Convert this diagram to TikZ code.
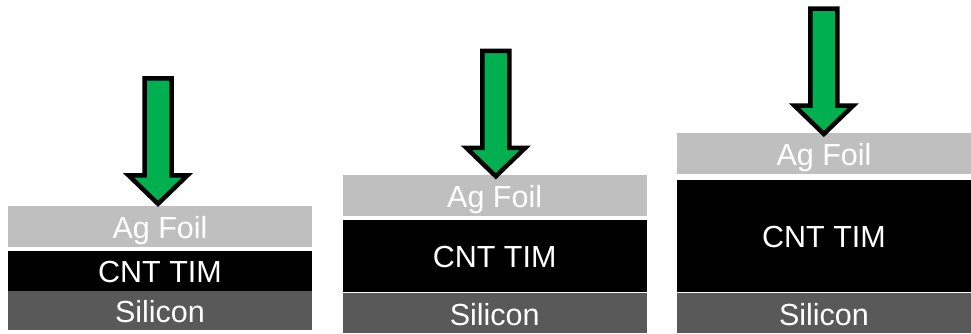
\documentclass[tikz,border=0pt]{standalone}
\usepackage{fontspec}
\setmainfont{Liberation Sans}
\definecolor{agc}{HTML}{BFBFBF}
\definecolor{sic}{HTML}{595959}
\definecolor{arrg}{HTML}{00B050}
\begin{document}
\begin{tikzpicture}[x=1pt,y=-1pt,
  layer/.style={inner sep=0pt, outer sep=0pt, text=white,
    font=\fontsize{30.5}{36}\selectfont, text height=24pt, text depth=0pt,
    minimum width=304pt},
  ag/.style={layer, fill=agc},
  cnt/.style={layer, fill=black},
  si/.style={layer, fill=sic},
  downarrow/.pic={\draw[fill=arrg, line width=4.5pt, line join=miter]
    (-13.5,0) -- (13.5,0) -- (13.5,97) -- (29.5,97) -- (0,125.5)
    -- (-29.5,97) -- (-13.5,97) -- cycle;}
]
\useasboundingbox (0,0) rectangle (971,333);
% panel 1
\node[ag,  minimum height=40.7pt] (agA)  at (160,226.35) {Ag Foil};
\node[cnt, minimum height=39.7pt] (cntA) at (160,270.85) {CNT TIM};
\node[si,  minimum height=39.3pt] (siA)  at (160,310.35) {Silicon};
\pic at (158,78.3) {downarrow};
% panel 2
\node[ag,  minimum height=40.7pt] (agB)  at (494.7,195.35) {Ag Foil};
\node[cnt, minimum height=71.7pt] (cntB) at (494.7,255.85) {CNT TIM};
\node[si,  minimum height=40pt]   (siB)  at (494.7,313) {Silicon};
\pic at (495.8,50.8) {downarrow};
% panel 3
\node[ag,  minimum height=41pt, minimum width=294pt]   (agC)  at (824,153.5) {Ag Foil};
\node[cnt, minimum height=111.7pt, minimum width=294pt] (cntC) at (824,235.85) {CNT TIM};
\node[si,  minimum height=40pt, minimum width=294pt]    (siC)  at (824,313) {Silicon};
\pic at (823.8,8.5) {downarrow};
\end{tikzpicture}
\end{document}
